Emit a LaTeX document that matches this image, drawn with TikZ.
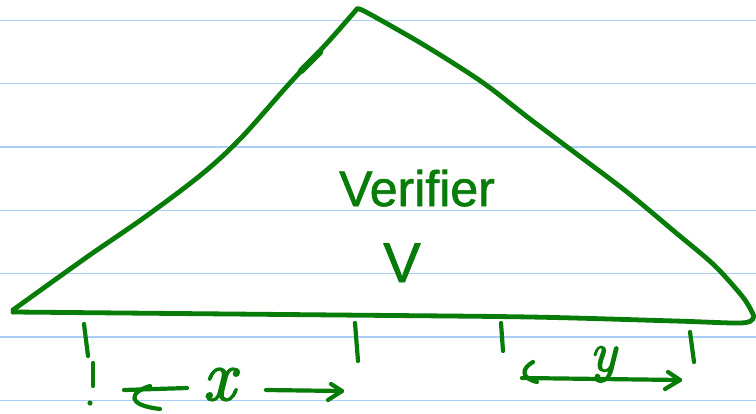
\documentclass[tikz,border=0pt]{standalone}
\usepackage{fontspec}
\newfontfamily\handfont[FakeBold=1.3]{Liberation Sans}
\newfontfamily\varfont[FakeBold=2.5]{Latin Modern Roman}
\begin{document}
\begin{tikzpicture}[x=1pt,y=-1pt,
  ink/.style={draw=penG,line width=4.8pt,line cap=round,line join=round},
  thin ink/.style={draw=penG,line width=4.2pt,line cap=round,line join=round},
  rule/.style={draw=ruleB,line width=1.6pt},
  hand/.style={text=penG,inner sep=0pt,font=\handfont\fontsize{50}{60}\selectfont},
  varlab/.style={text=penG,inner sep=0pt,anchor=base}]
\definecolor{penG}{RGB}{8,124,8}
\definecolor{ruleB}{RGB}{168,206,250}
\useasboundingbox (0,0) rectangle (756,413);
\fill[white] (0,0) rectangle (756,413);
% ruled paper lines
\foreach \yy in {20.3,83.6,147,210.3,273.6,337,400.3}
  \draw[rule] (0,\yy) -- (756,\yy);
% triangle
\draw[ink] plot[smooth,tension=0.55] coordinates {(13,310) (87,257) (145,217) (202,174) (241,138) (289,84) (328,42) (357,9)};
\draw[ink,line width=6.5pt] (301,71) -- (320,52);
\draw[ink] plot[smooth,tension=0.5] coordinates {(357,9) (366,12) (424,45) (482,82) (530,119) (578,155) (627,192) (675,232) (714,265) (742,296) (752,312) (753,319) (740,323) (675,321) (530,317) (337,315) (13,312)};
\draw[ink] (13,312) -- (13,310);
% text
\node[hand,anchor=base] (verifier) at (417,206) {Verifier};
\node[hand,anchor=base,font=\handfont\fontsize{56}{60}\selectfont] (vlabel) at (402,282) {V};
% ticks
\coordinate (t1a) at (84,324); \coordinate (t1b) at (88,356);
\coordinate (t1c) at (93,363); \coordinate (t1d) at (93,386);
\coordinate (t2a) at (355,323); \coordinate (t2b) at (358,361);
\coordinate (t3a) at (501,323); \coordinate (t3b) at (503,351);
\coordinate (t4a) at (690,332); \coordinate (t4b) at (694,362);
\draw[thin ink] (t1a) -- (t1b);
\draw[thin ink] (t1c) -- (t1d);
\fill[penG] (90,403) circle (2.6pt);
\draw[thin ink] (t2a) -- (t2b);
\draw[thin ink] (t3a) -- (t3b);
\draw[thin ink] (t4a) -- (t4b);
% x arrows
\node[varlab,font=\varfont\itshape\fontsize{72}{72}\selectfont] (xlab) at (219,400) {x};
\coordinate (xl0) at (187,388); \coordinate (xl1) at (124,390);
\draw[thin ink] (xl0) -- (xl1);
\draw[thin ink] (150,386) .. controls (130,392) and (125,405) .. (160,409);
\coordinate (xr0) at (266,390); \coordinate (xr1) at (342,391);
\draw[thin ink] (xr0) -- (xr1);
\draw[thin ink] (331,384) -- (xr1) -- (328,400);
% y arrow
\node[varlab,font=\varfont\itshape\fontsize{56}{60}\selectfont] (ylab) at (603,371) {y};
\coordinate (ya) at (522,378); \coordinate (yb) at (680,380);
\draw[thin ink] (ya) -- (yb);
\draw[thin ink] (533,362) .. controls (522,368) and (520,378) .. (537,382);
\draw[thin ink] (668,372) -- (yb) -- (665,389);
\end{tikzpicture}
\end{document}
